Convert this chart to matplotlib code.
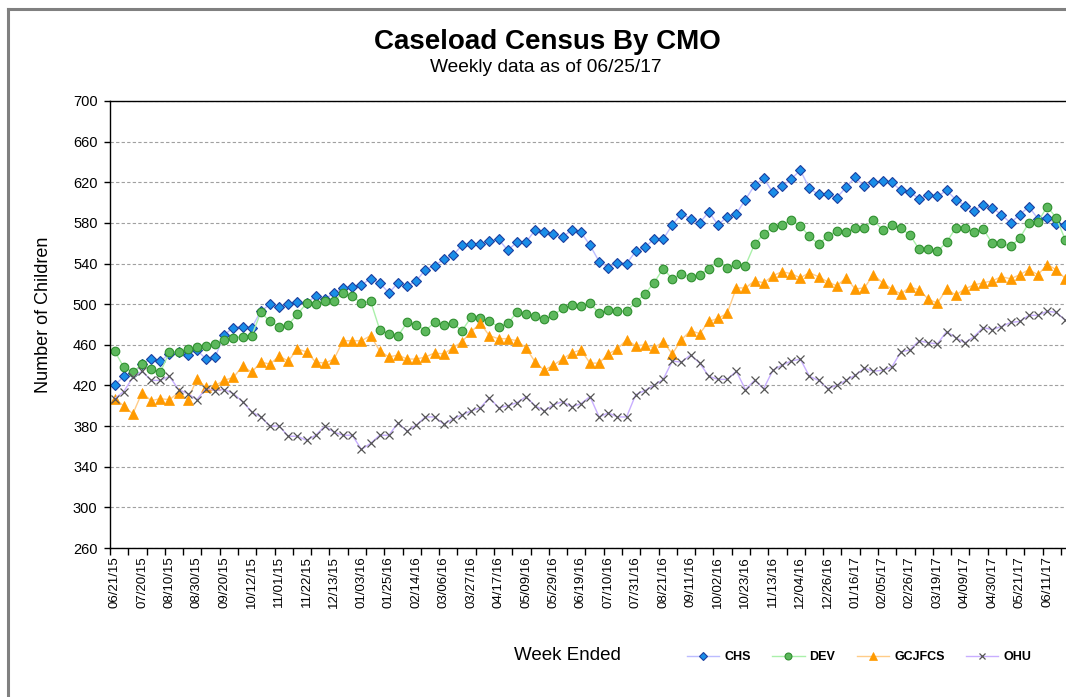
import numpy as np
import matplotlib
matplotlib.use('Agg')
import matplotlib.pyplot as plt
from matplotlib.lines import Line2D

plt.rcParams['font.family'] = ['Liberation Sans', 'DejaVu Sans']

# weekly census by CMO, 06/21/15 .. 06/25/17
chs = [420, 429, 432, 441, 446, 444, 451, 453, 450, 455, 446, 448, 470, 477, 478, 477,
       493, 500, 497, 500, 502, 501, 508, 505, 511, 516, 517, 519, 525, 521, 511, 521,
       518, 523, 534, 538, 544, 548, 558, 559, 559, 562, 564, 553, 561, 561, 573, 571,
       569, 566, 573, 571, 558, 542, 536, 541, 540, 552, 556, 564, 564, 578, 589, 584,
       580, 591, 578, 586, 589, 603, 617, 624, 610, 616, 623, 632, 614, 608, 608, 605,
       615, 625, 616, 620, 621, 620, 612, 610, 604, 607, 606, 612, 603, 597, 592, 598,
       595, 588, 580, 588, 596, 584, 585, 579, 578]
dev = [454, 438, 433, 441, 436, 433, 453, 453, 456, 458, 459, 461, 465, 467, 468, 469,
       492, 483, 478, 480, 490, 501, 500, 503, 503, 511, 508, 501, 503, 475, 471, 469,
       482, 480, 474, 482, 480, 481, 474, 487, 486, 483, 478, 481, 492, 490, 488, 485,
       489, 496, 499, 498, 501, 491, 494, 493, 493, 502, 510, 521, 535, 525, 530, 527,
       529, 535, 542, 536, 540, 538, 559, 569, 576, 578, 583, 577, 567, 559, 567, 572,
       571, 575, 575, 583, 573, 578, 575, 568, 554, 554, 552, 561, 575, 575, 571, 574,
       560, 560, 557, 565, 580, 581, 596, 585, 563]
gcjfcs = [407, 400, 392, 413, 405, 407, 406, 413, 406, 426, 418, 420, 425, 428, 439, 433,
          443, 441, 449, 444, 456, 453, 443, 442, 446, 464, 464, 464, 469, 454, 448, 450,
          446, 446, 448, 452, 451, 457, 463, 473, 481, 469, 466, 466, 464, 457, 443, 435,
          440, 446, 452, 455, 442, 442, 451, 456, 465, 459, 460, 457, 463, 451, 465, 474,
          471, 483, 486, 491, 516, 516, 523, 521, 528, 532, 530, 526, 531, 527, 522, 518,
          526, 515, 516, 529, 521, 515, 510, 517, 514, 505, 501, 515, 509, 515, 519, 521,
          523, 527, 525, 529, 534, 529, 539, 534, 525]
ohu = [407, 414, 428, 434, 425, 425, 429, 416, 412, 406, 417, 415, 416, 412, 404, 394,
       389, 380, 380, 370, 370, 366, 371, 380, 374, 371, 371, 357, 363, 371, 371, 383,
       375, 381, 389, 389, 382, 387, 391, 395, 398, 408, 398, 400, 403, 409, 400, 395,
       401, 404, 399, 402, 409, 389, 393, 389, 389, 411, 415, 420, 426, 444, 443, 450,
       442, 429, 426, 426, 434, 416, 425, 417, 435, 440, 444, 446, 429, 425, 417, 420,
       425, 430, 437, 434, 435, 438, 453, 455, 464, 462, 461, 473, 467, 462, 468, 477,
       475, 478, 482, 483, 489, 489, 493, 492, 484]

tick_labels = ['06/21/15', '07/20/15', '08/10/15', '08/30/15', '09/20/15', '10/12/15',
               '11/01/15', '11/22/15', '12/13/15', '01/03/16', '01/25/16', '02/14/16',
               '03/06/16', '03/27/16', '04/17/16', '05/09/16', '05/29/16', '06/19/16',
               '07/10/16', '07/31/16', '08/21/16', '09/11/16', '10/02/16', '10/23/16',
               '11/13/16', '12/04/16', '12/26/16', '01/16/17', '02/05/17', '02/26/17',
               '03/19/17', '04/09/17', '04/30/17', '05/21/17', '06/11/17']

n = len(chs)
x = np.arange(n)

fig = plt.figure(figsize=(10.66, 6.97), dpi=100)
ax = fig.add_axes([110 / 1066, 149 / 697, 960 / 1066, 447 / 697])

ax.plot(x, chs, color='#bcbcff', lw=1, marker='D', ms=4.6,
        mfc='#1a8ee8', mec='#1c3f9e', mew=0.8, label='CHS')
ax.plot(x, dev, color='#aaf0aa', lw=1, marker='o', ms=6.2,
        mfc='#5cb85c', mec='#2f8f2f', mew=0.8, label='DEV')
ax.plot(x, gcjfcs, color='#ffcc88', lw=1, marker='^', ms=6.5,
        mfc='#ff9a00', mec='#ff9a00', mew=0.5, label='GCJFCS')
ax.plot(x, ohu, color='#c8aeff', lw=1, marker='x', ms=5.8,
        mec='#555555', mew=0.9, label='OHU')

ax.set_xlim(-0.5, n - 0.5)
ax.set_ylim(260, 700)
ax.set_yticks(np.arange(260, 701, 40))
ax.tick_params(axis='y', labelsize=10.5, length=4, width=1, direction='out', pad=5)

ax.set_xticks(x[::3])
ax.set_xticklabels(tick_labels, rotation=90, fontsize=9.5)
ax.tick_params(axis='x', which='major', length=0, pad=6)
ax.set_xticks(np.arange(-0.5, n, 2), minor=True)
ax.tick_params(axis='x', which='minor', length=5, width=1, direction='out')

ax.yaxis.grid(True, linestyle=(0, (3, 2)), color='#a0a0a0', lw=0.8)
ax.set_axisbelow(True)
for side in ['left', 'bottom', 'top']:
    ax.spines[side].set_color('black')
    ax.spines[side].set_linewidth(1)
ax.spines['right'].set_visible(False)

fig.text(44 / 1066, 1 - 315 / 697, 'Number of Children', rotation=90,
         ha='center', va='center', fontsize=13)
fig.text(547 / 1066, 1 - 42 / 697, 'Caseload Census By CMO', ha='center', va='center',
         fontsize=20, fontweight='bold')
fig.text(546 / 1066, 1 - 68 / 697, 'Weekly data as of 06/25/17', ha='center', va='center',
         fontsize=13.8)
fig.text(567 / 1066, 1 - 656 / 697, 'Week Ended', ha='center', va='center', fontsize=13.5)

fig.legend(loc='center', bbox_to_anchor=(859 / 1066, 1 - 657 / 697), ncol=4,
           frameon=False, prop={'weight': 'bold', 'size': 9}, handlelength=2.6,
           handletextpad=0.4, columnspacing=1.7, markerscale=0.8)

# outer frame of the screenshot
fig.add_artist(Line2D([8 / 1066, 8 / 1066], [0, 1 - 9 / 697], transform=fig.transFigure,
                      color='#808080', lw=2.2))
fig.add_artist(Line2D([8 / 1066, 1], [1 - 9 / 697, 1 - 9 / 697], transform=fig.transFigure,
                      color='#808080', lw=2.2))

fig.savefig('out.png', dpi=100)
